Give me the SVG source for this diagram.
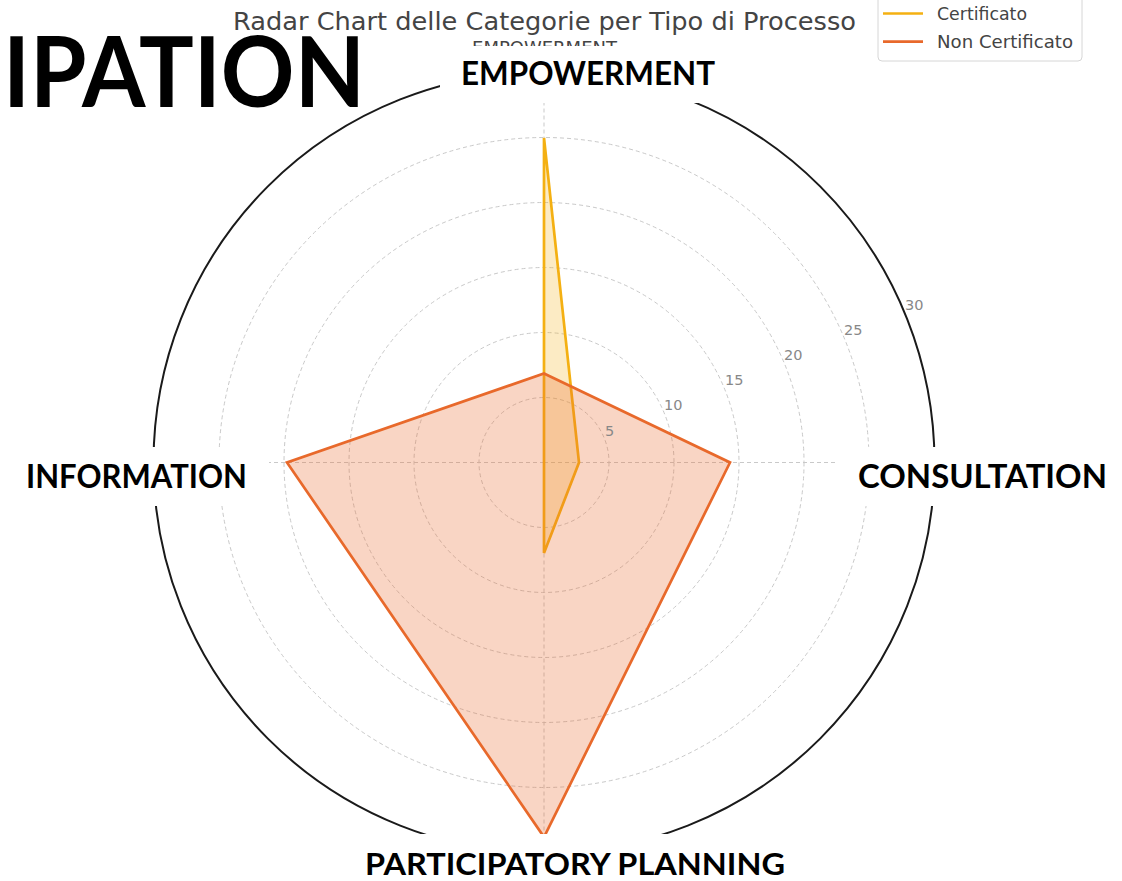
<svg xmlns="http://www.w3.org/2000/svg" width="1122" height="881" viewBox="0 0 1122 881">
  <style>
    .grid { fill: none; stroke: #c9c9c9; stroke-width: 1; stroke-dasharray: 4 3; }
    .tick { font-family: "DejaVu Sans", sans-serif; font-size: 14.5px; fill: #888888; }
    .mpl { font-family: "DejaVu Sans", sans-serif; fill: #444444; }
    .big { font-family: "Lato", "Open Sans", sans-serif; font-weight: 700; fill: #000000; }
    .mask { fill: #ffffff; stroke: none; }
  </style>
  <defs>
    <clipPath id="clip-top"><rect x="440" y="0" width="260" height="46"/></clipPath>
  </defs>
  <rect x="0" y="0" width="1122" height="881" fill="#ffffff"/>

  <g id="grid">
    <circle class="grid" cx="544" cy="462.5" r="65"/>
    <circle class="grid" cx="544" cy="462.5" r="130"/>
    <circle class="grid" cx="544" cy="462.5" r="195"/>
    <circle class="grid" cx="544" cy="462.5" r="260"/>
    <circle class="grid" cx="544" cy="462.5" r="325"/>
    <line class="grid" x1="544" y1="462.5" x2="544" y2="72"/>
    <line class="grid" x1="544" y1="462.5" x2="935" y2="462.5"/>
    <line class="grid" x1="544" y1="462.5" x2="544" y2="853"/>
    <line class="grid" x1="544" y1="462.5" x2="153" y2="462.5"/>
  </g>

  <g id="series-certificato">
    <polygon points="544,138 579,462.5 544,553 544,462.5" fill="#F4B012" fill-opacity="0.25" stroke="#F4B012" stroke-width="2.7" stroke-linejoin="miter"/>
  </g>
  <g id="series-non-certificato">
    <polygon points="544,373.5 730,462.5 544,837 287,462.5" fill="#E8692B" fill-opacity="0.28" stroke="#E8692B" stroke-width="2.7" stroke-linejoin="miter"/>
  </g>

  <circle id="frame" cx="544" cy="462.5" r="390.5" fill="none" stroke="#1a1a1a" stroke-width="2"/>

  <g id="ticks">
    <text class="tick" x="605" y="436">5</text>
    <text class="tick" x="664" y="410">10</text>
    <text class="tick" x="725" y="385">15</text>
    <text class="tick" x="784" y="360">20</text>
    <text class="tick" x="844" y="335">25</text>
    <text class="tick" x="905" y="310">30</text>
  </g>

  <g clip-path="url(#clip-top)">
    <text id="mpl-empowerment" class="mpl" x="472" y="54" font-size="18" textLength="145" lengthAdjust="spacingAndGlyphs" fill="#222222">EMPOWERMENT</text>
  </g>

  <text id="title" class="mpl" x="233" y="29.5" font-size="25.6" textLength="623" lengthAdjust="spacingAndGlyphs">Radar Chart delle Categorie per Tipo di Processo</text>

  <g id="legend">
    <rect x="878" y="-10" width="204" height="71" rx="4" ry="4" fill="#ffffff" fill-opacity="0.85" stroke="#d6d6d6" stroke-width="1"/>
    <line x1="883" y1="13.5" x2="923" y2="13.5" stroke="#F4B012" stroke-width="2.7"/>
    <line x1="883" y1="41.7" x2="923" y2="41.7" stroke="#E8692B" stroke-width="2.7"/>
    <text class="mpl" x="937" y="19.5" font-size="18" textLength="90" lengthAdjust="spacingAndGlyphs">Certificato</text>
    <text class="mpl" x="937" y="48.3" font-size="18" textLength="136" lengthAdjust="spacingAndGlyphs">Non Certificato</text>
  </g>

  <g id="label-masks">
    <rect class="mask" x="440" y="46" width="260" height="57"/>
    <rect class="mask" x="0" y="447" width="269" height="59"/>
    <rect class="mask" x="838" y="447" width="284" height="59"/>
    <rect class="mask" x="0" y="834" width="1122" height="47"/>
  </g>

  <g id="label-empowerment"><text class="big" x="461" y="85" font-size="32" textLength="254" lengthAdjust="spacingAndGlyphs">EMPOWERMENT</text></g>
  <g id="label-information"><text class="big" x="26" y="488" font-size="32" textLength="221" lengthAdjust="spacingAndGlyphs">INFORMATION</text></g>
  <g id="label-consultation"><text class="big" x="858" y="488" font-size="32" textLength="249" lengthAdjust="spacingAndGlyphs">CONSULTATION</text></g>
  <g id="label-participatory"><text class="big" x="365" y="875" font-size="31" textLength="420" lengthAdjust="spacingAndGlyphs">PARTICIPATORY PLANNING</text></g>
  <g id="heading"><text class="big" x="3" y="107" font-size="97" font-weight="900" textLength="362" lengthAdjust="spacingAndGlyphs">IPATION</text></g>
</svg>
